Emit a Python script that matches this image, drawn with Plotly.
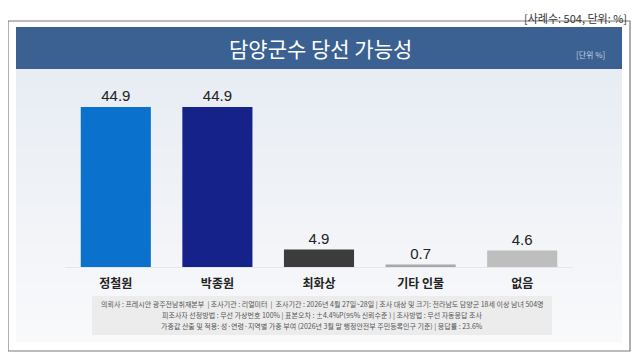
import plotly.graph_objects as go

categories = ["정철원", "박종원", "최화상", "기타 인물", "없음"]
values = [44.9, 44.9, 4.9, 0.7, 4.6]
bar_colors = ["#0a72cc", "#14228a", "#3c3c3c", "#a8a8a8", "#bebebe"]
value_labels = ["44.9", "44.9", "4.9", "0.7", "4.6"]

title_text = "담양군수 당선 가능성"
unit_text = "[단위 %]"
top_note = "[사례수: 504, 단위: %]"
footnotes = [
    "의뢰사 : 프레시안 광주전남취재본부  | 조사기관 : 리얼미터  |  조사기간 : 2026년 4월 27일~28일 | 조사 대상 및 크기: 전라남도 담양군 18세 이상 남녀 504명",
    "피조사자 선정방법 : 무선 가상번호 100% | 표본오차 : ±4.4%P(95% 신뢰수준 ) | 조사방법 : 무선 자동응답 조사",
    "가중값 산출 및 적용: 성·연령·지역별 가중 부여 (2026년 3월 말 행정안전부 주민등록인구 기준) | 응답률 : 23.6%",
]

# page body adds an 8px margin; work in reference pixels and shift
OFF = 8
W, H = 640 - OFF, 363 - OFF
L, R, T, B = 65 - OFF, 573 - OFF, 80 - OFF, 267 - OFF
FONT = "Noto Sans CJK KR, Noto Sans, sans-serif"


def px(x):
    return (x - OFF - L) / (R - L)


def py(y):
    return (B - (y - OFF)) / (B - T)


fig = go.Figure()
fig.add_trace(go.Bar(
    x=categories, y=values,
    marker=dict(color=bar_colors, line=dict(width=0)),
    width=0.69,
    text=value_labels, textposition="outside", cliponaxis=False,
    textfont=dict(size=15, color="#222222", family="Liberation Sans, Arial, sans-serif"),
    hoverinfo="skip",
))

shapes = []
shapes.append(dict(type="rect", xref="paper", yref="paper", layer="below",
                   x0=px(8), x1=px(630), y0=py(21), y1=py(351),
                   line=dict(color="#7a7a7a", width=1.2), fillcolor="#ffffff"))
top_c = (232, 237, 244)
bot_c = (248, 249, 251)
n = 14
y_start, y_end = 69, 342
for i in range(n):
    t = i / (n - 1)
    c = tuple(int(round(top_c[k] + (bot_c[k] - top_c[k]) * t)) for k in range(3))
    ya = y_start + (y_end - y_start) * i / n
    yb = y_start + (y_end - y_start) * (i + 1) / n
    shapes.append(dict(type="rect", xref="paper", yref="paper", layer="below",
                       x0=px(16), x1=px(622), y0=py(ya), y1=py(yb + 0.5),
                       line=dict(width=0), fillcolor="rgb(%d,%d,%d)" % c))
shapes.append(dict(type="rect", xref="paper", yref="paper", layer="below",
                   x0=px(16), x1=px(622), y0=py(27), y1=py(69),
                   line=dict(width=0), fillcolor="#3a6191"))
shapes.append(dict(type="rect", xref="paper", yref="paper", layer="below",
                   x0=px(92), x1=px(552), y0=py(296), y1=py(335),
                   line=dict(width=0), fillcolor="#ececec"))

annotations = [
    dict(text=title_text, xref="paper", yref="paper", x=px(320), y=py(48),
         showarrow=False, xanchor="center", yanchor="middle",
         font=dict(size=21, color="#ffffff", family=FONT)),
    dict(text=unit_text, xref="paper", yref="paper", x=px(607), y=py(54),
         showarrow=False, xanchor="right", yanchor="middle",
         font=dict(size=8, color="#c5d0e2", family=FONT)),
    dict(text=top_note, xref="paper", yref="paper", x=px(629), y=py(8),
         showarrow=False, xanchor="right", yanchor="top",
         font=dict(size=11, color="#333333", family=FONT)),
]
for i, line in enumerate(footnotes):
    annotations.append(dict(text=line, xref="paper", yref="paper", x=px(322), y=py(304 + 11 * i),
                            showarrow=False, xanchor="center", yanchor="middle",
                            font=dict(size=7, color="#555555", family=FONT)))

fig.update_layout(
    width=W, height=H, autosize=False,
    margin=dict(l=L, r=W - R, t=T, b=H - B, pad=0),
    paper_bgcolor="#ffffff", plot_bgcolor="rgba(0,0,0,0)",
    showlegend=False,
    shapes=shapes, annotations=annotations,
    font=dict(family=FONT),
)
fig.update_xaxes(showline=True, linecolor="#e3e6ea", linewidth=1, showgrid=False,
                 ticks="outside", ticklen=6, tickcolor="rgba(0,0,0,0)",
                 tickfont=dict(size=12, color="#222222", family=FONT, weight="bold"),
                 fixedrange=True)
fig.update_yaxes(range=[0, (B - T) / 160 * 44.9], visible=False, showgrid=False,
                 zeroline=False, fixedrange=True)

fig.write_html("out.html")
